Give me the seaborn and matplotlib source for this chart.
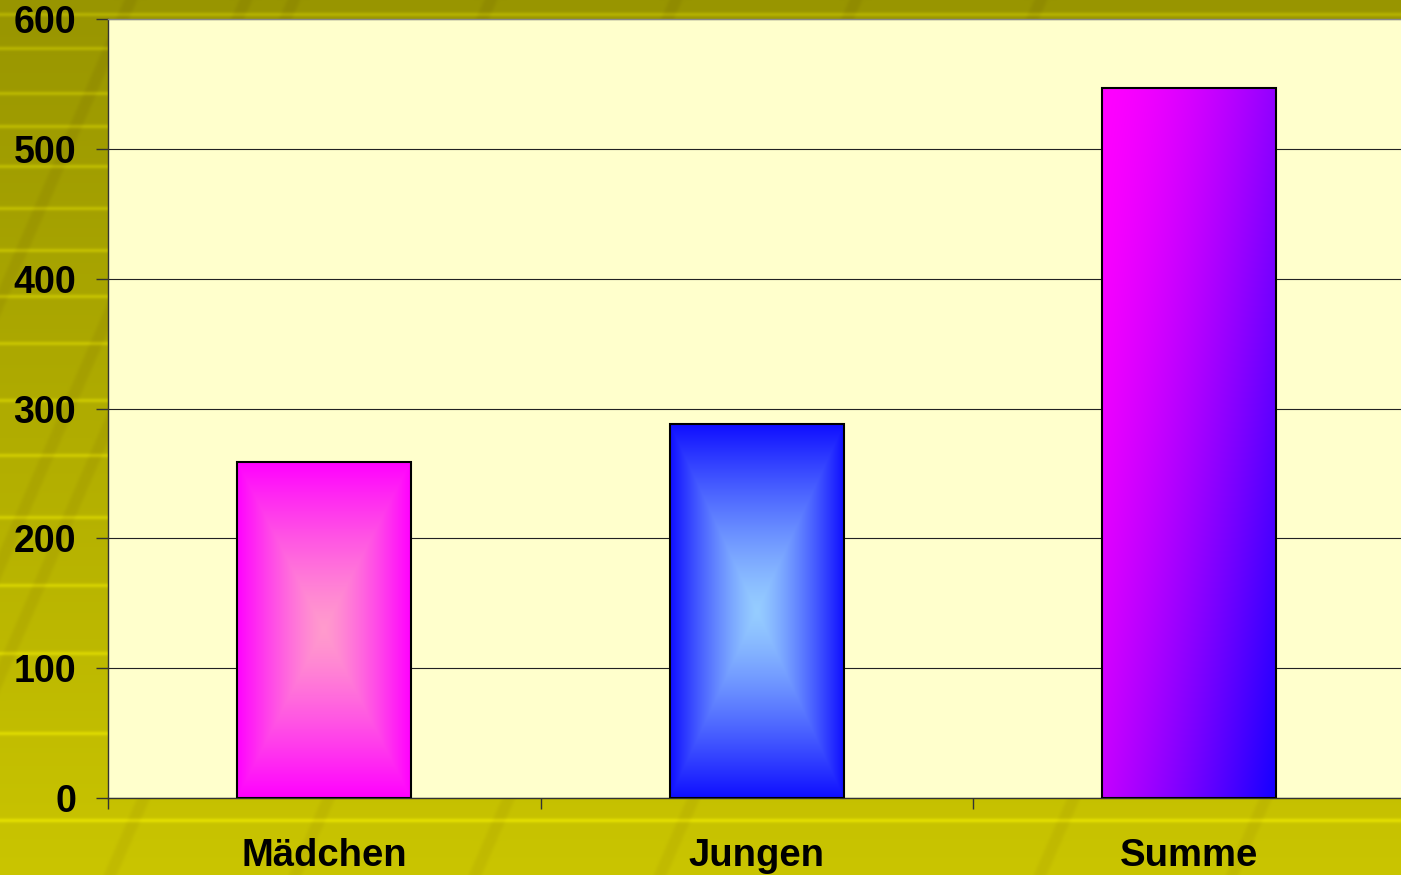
import numpy as np
import seaborn as sns
import matplotlib.pyplot as plt
import pandas as pd

# data
categories = ['Mädchen', 'Jungen', 'Summe']
values = [259, 288, 547]

df = pd.DataFrame({'gruppe': categories, 'anzahl': values})

sns.set_style('white')
plt.rcParams['font.family'] = ['Liberation Sans', 'DejaVu Sans']
plt.rcParams['font.weight'] = 'bold'
plt.rcParams['text.color'] = 'black'
plt.rcParams['xtick.color'] = 'black'
plt.rcParams['ytick.color'] = 'black'

W, H = 1401, 875
fig = plt.figure(figsize=(W / 100, H / 100), dpi=100)

# olive slide background with light horizontal and faint diagonal stripes
yy, xx = np.mgrid[0:H, 0:W].astype(float)
t = yy / H
bg = np.zeros((H, W, 3))
bg[..., 0] = 152 + (202 - 152) * t
bg[..., 1] = 149 + (197 - 149) * t
stripe_rows = [14, 48, 93, 126, 166, 208, 250, 296, 343, 400, 455, 517, 585, 653, 733, 820]
for r in stripe_rows:
    m = np.exp(-((yy - r) / 2.2) ** 2)
    bg[..., 0] += 26 * m
    bg[..., 1] += 26 * m
diag = (xx + yy / 2.3)
for c in [130, 245, 293, 490, 675, 855, 1040, 1612, 1420]:
    m = np.exp(-((diag - c) / 7.0) ** 4)
    bg[..., 0] -= 8 * m
    bg[..., 1] -= 10 * m
bg = np.clip(bg, 0, 255) / 255
bg_ax = fig.add_axes([0, 0, 1, 1], zorder=-10)
bg_ax.imshow(bg, aspect='auto', extent=[0, 1, 0, 1])
bg_ax.axis('off')

# plot area runs slightly past the right edge of the slide
ax = fig.add_axes([108 / W, (H - 798) / H, 1297.5 / W, (798 - 19) / H])
ax.set_facecolor('#FFFFCC')

sns.barplot(data=df, x='gruppe', y='anzahl', width=0.402, color='#FF00FF',
            edgecolor='black', linewidth=1.5, ax=ax, zorder=3)


def box_gradient(center, edge, p=1.3, n=300):
    u, v = np.meshgrid(np.linspace(-1, 1, n), np.linspace(-1, 1, n))
    d = np.maximum(np.abs(u), np.abs(v)) ** p
    d = d[..., None]
    return (np.array(center) * (1 - d) + np.array(edge) * d) / 255


def diag_gradient(start, end, n=300):
    u, v = np.meshgrid(np.linspace(0, 1, n), np.linspace(0, 1, n))
    s = (0.6 * u + 0.4 * v) ** 1.5
    s = s[..., None]
    return (np.array(start) * (1 - s) + np.array(end) * s) / 255


fills = [
    box_gradient((255, 155, 205), (255, 0, 255)),
    box_gradient((150, 205, 255), (15, 15, 255)),
    diag_gradient((255, 0, 255), (20, 0, 255)),
]

for patch, img in zip(ax.patches, fills):
    x0, y0 = patch.get_x(), patch.get_y()
    w, h = patch.get_width(), patch.get_height()
    im = ax.imshow(img, extent=[x0, x0 + w, y0, y0 + h], aspect='auto',
                   zorder=3.5, interpolation='bilinear')
    im.set_clip_path(patch)
    patch.set_facecolor('none')
    patch.set_zorder(4)

ax.set_xlim(-0.5, 2.5)
ax.set_ylim(0, 600)
ax.set_yticks(range(0, 601, 100))
ax.yaxis.grid(True, color='#222222', linewidth=0.8)
ax.set_axisbelow(True)

ax.set_xticks([-0.5, 0.5, 1.5])
ax.set_xticklabels([])
ax.set_xticks([0, 1, 2], minor=True)
ax.set_xticklabels(categories, minor=True)
ax.tick_params(axis='x', which='major', direction='out', length=8, width=1, color='#333333', bottom=True)
ax.tick_params(axis='x', which='minor', length=0, pad=29, labelsize=27.5, labelcolor='black')
ax.tick_params(axis='y', direction='out', length=9, width=1, color='#333333', left=True, pad=14,
               labelsize=27, labelcolor='black')
for lab in ax.get_xticklabels(minor=True) + ax.get_yticklabels():
    lab.set_fontweight('bold')

ax.set_xlabel('')
ax.set_ylabel('')
ax.spines['right'].set_visible(False)
ax.spines['top'].set_color('#888888')
ax.spines['left'].set_color('#333333')
ax.spines['bottom'].set_color('#333333')
for s in ax.spines.values():
    s.set_linewidth(1)

plt.savefig('out.png', dpi=100)
